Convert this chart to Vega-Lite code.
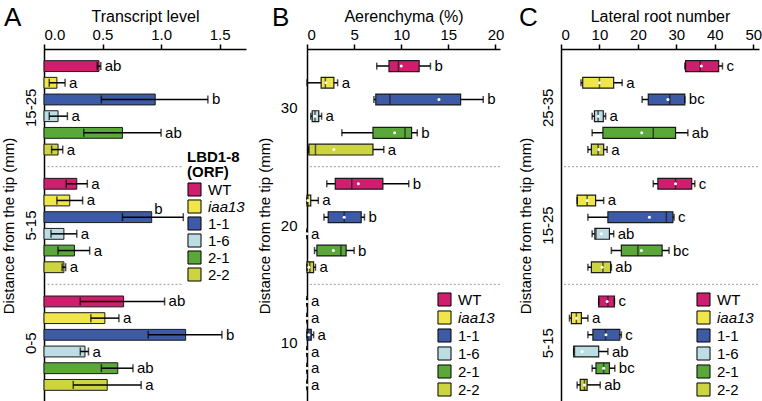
{
  "$schema": "https://vega.github.io/schema/vega-lite/v6.json",
  "autosize": {"type": "pad"},
  "padding": {"left": 0, "top": 5, "right": 0, "bottom": 0},
  "bounds": "flush",
  "spacing": 61,
  "datasets": {
    "A": [
      {"zone": "15-25", "geno": "WT", "mean": 0.47, "lo": 0.455, "hi": 0.485, "sig": "ab"},
      {"zone": "15-25", "geno": "iaa13", "mean": 0.11, "lo": 0.045, "hi": 0.18, "sig": "a"},
      {"zone": "15-25", "geno": "1-1", "mean": 0.95, "lo": 0.49, "hi": 1.40, "sig": "b"},
      {"zone": "15-25", "geno": "1-6", "mean": 0.12, "lo": 0.045, "hi": 0.20, "sig": "a"},
      {"zone": "15-25", "geno": "2-1", "mean": 0.67, "lo": 0.34, "hi": 1.0, "sig": "ab"},
      {"zone": "15-25", "geno": "2-2", "mean": 0.12, "lo": 0.065, "hi": 0.16, "sig": "a"},
      {"zone": "5-15", "geno": "WT", "mean": 0.28, "lo": 0.19, "hi": 0.37, "sig": "a"},
      {"zone": "5-15", "geno": "iaa13", "mean": 0.22, "lo": 0.11, "hi": 0.33, "sig": "a"},
      {"zone": "5-15", "geno": "1-1", "mean": 0.92, "lo": 0.67, "hi": 1.19, "sig": "b"},
      {"zone": "5-15", "geno": "1-6", "mean": 0.17, "lo": 0.06, "hi": 0.28, "sig": "a"},
      {"zone": "5-15", "geno": "2-1", "mean": 0.26, "lo": 0.12, "hi": 0.39, "sig": "a"},
      {"zone": "5-15", "geno": "2-2", "mean": 0.17, "lo": 0.155, "hi": 0.185, "sig": "a"},
      {"zone": "0-5", "geno": "WT", "mean": 0.68, "lo": 0.31, "hi": 1.03, "sig": "ab"},
      {"zone": "0-5", "geno": "iaa13", "mean": 0.52, "lo": 0.40, "hi": 0.64, "sig": "a"},
      {"zone": "0-5", "geno": "1-1", "mean": 1.21, "lo": 0.89, "hi": 1.52, "sig": "b"},
      {"zone": "0-5", "geno": "1-6", "mean": 0.35, "lo": 0.31, "hi": 0.38, "sig": "a"},
      {"zone": "0-5", "geno": "2-1", "mean": 0.63, "lo": 0.49, "hi": 0.76, "sig": "ab"},
      {"zone": "0-5", "geno": "2-2", "mean": 0.54, "lo": 0.25, "hi": 0.83, "sig": "a"}
    ],
    "B": [
      {"zone": "30", "geno": "WT", "min": 7.4, "q1": 8.7, "med": 9.7, "q3": 11.9, "max": 13.1, "mean": 10.0, "sig": "b"},
      {"zone": "30", "geno": "iaa13", "min": 0, "q1": 1.5, "med": 1.95, "q3": 2.85, "max": 3.25, "mean": 2.0, "sig": "a"},
      {"zone": "30", "geno": "1-1", "min": 7.1, "q1": 7.3, "med": 8.8, "q3": 16.3, "max": 18.7, "mean": 14.0, "sig": "b"},
      {"zone": "30", "geno": "1-6", "min": 0.4, "q1": 0.55, "med": 0.85, "q3": 1.25, "max": 1.55, "mean": 0.85, "sig": "a"},
      {"zone": "30", "geno": "2-1", "min": 3.7, "q1": 7.0, "med": 10.4, "q3": 11.1, "max": 11.7, "mean": 9.3, "sig": "b"},
      {"zone": "30", "geno": "2-2", "min": 0.15, "q1": 0.2, "med": 0.9, "q3": 7.0, "max": 8.15, "mean": 2.85, "sig": "a"},
      {"zone": "20", "geno": "WT", "min": 2.1, "q1": 3.0, "med": 4.75, "q3": 8.05, "max": 10.8, "mean": 5.45, "sig": "b"},
      {"zone": "20", "geno": "iaa13", "min": 0, "q1": 0, "med": 0.1, "q3": 0.4, "max": 1.2, "mean": 0.1, "sig": "a"},
      {"zone": "20", "geno": "1-1", "min": 1.8, "q1": 2.25, "med": 3.95, "q3": 5.75, "max": 6.1, "mean": 3.95, "sig": "b"},
      {"zone": "20", "geno": "1-6", "min": 0, "q1": 0, "med": 0, "q3": 0, "max": 0, "mean": 0, "sig": "a"},
      {"zone": "20", "geno": "2-1", "min": 0.8, "q1": 1.05, "med": 3.6, "q3": 4.15, "max": 5.0, "mean": 2.8, "sig": "b"},
      {"zone": "20", "geno": "2-2", "min": 0, "q1": 0, "med": 0.3, "q3": 0.7, "max": 0.9, "mean": 0.2, "sig": "a"},
      {"zone": "10", "geno": "WT", "min": 0, "q1": 0, "med": 0, "q3": 0, "max": 0, "mean": 0, "sig": "a"},
      {"zone": "10", "geno": "iaa13", "min": 0, "q1": 0, "med": 0, "q3": 0, "max": 0, "mean": 0, "sig": "a"},
      {"zone": "10", "geno": "1-1", "min": 0, "q1": 0, "med": 0.1, "q3": 0.45, "max": 0.7, "mean": 0.2, "sig": "a"},
      {"zone": "10", "geno": "1-6", "min": 0, "q1": 0, "med": 0, "q3": 0, "max": 0, "mean": 0, "sig": "a"},
      {"zone": "10", "geno": "2-1", "min": 0, "q1": 0, "med": 0, "q3": 0, "max": 0, "mean": 0, "sig": "a"},
      {"zone": "10", "geno": "2-2", "min": 0, "q1": 0, "med": 0, "q3": 0, "max": 0, "mean": 0, "sig": "a"}
    ],
    "C": [
      {"zone": "25-35", "geno": "WT", "min": 32.2, "q1": 32.4, "med": 36.2, "q3": 41.0, "max": 42.0, "mean": 36.5, "sig": "c"},
      {"zone": "25-35", "geno": "iaa13", "min": 5.2, "q1": 5.65, "med": 10.0, "q3": 13.7, "max": 15.9, "mean": 10.0, "sig": "a"},
      {"zone": "25-35", "geno": "1-1", "min": 21.1, "q1": 22.7, "med": 28.3, "q3": 32.2, "max": 32.2, "mean": 27.8, "sig": "bc"},
      {"zone": "25-35", "geno": "1-6", "min": 8.1, "q1": 8.7, "med": 9.65, "q3": 11.0, "max": 11.6, "mean": 9.7, "sig": "a"},
      {"zone": "25-35", "geno": "2-1", "min": 8.1, "q1": 10.9, "med": 24.0, "q3": 29.8, "max": 33.0, "mean": 21.0, "sig": "ab"},
      {"zone": "25-35", "geno": "2-2", "min": 7.0, "q1": 7.9, "med": 9.65, "q3": 11.1, "max": 12.0, "mean": 9.8, "sig": "a"},
      {"zone": "15-25", "geno": "WT", "min": 24.0, "q1": 25.2, "med": 29.8, "q3": 34.0, "max": 34.8, "mean": 29.8, "sig": "c"},
      {"zone": "15-25", "geno": "iaa13", "min": 4.2, "q1": 4.2, "med": 6.8, "q3": 9.0, "max": 11.1, "mean": 6.8, "sig": "a"},
      {"zone": "15-25", "geno": "1-1", "min": 7.0, "q1": 12.2, "med": 27.4, "q3": 29.1, "max": 29.4, "mean": 23.0, "sig": "c"},
      {"zone": "15-25", "geno": "1-6", "min": 8.1, "q1": 8.8, "med": 9.1, "q3": 12.6, "max": 13.7, "mean": 10.5, "sig": "ab"},
      {"zone": "15-25", "geno": "2-1", "min": 13.1, "q1": 15.7, "med": 20.0, "q3": 26.3, "max": 28.1, "mean": 20.9, "sig": "bc"},
      {"zone": "15-25", "geno": "2-2", "min": 7.0, "q1": 7.9, "med": 10.9, "q3": 12.9, "max": 13.1, "mean": 10.7, "sig": "ab"},
      {"zone": "5-15", "geno": "WT", "min": 9.8, "q1": 9.8, "med": 12.2, "q3": 13.9, "max": 13.9, "mean": 12.0, "sig": "c"},
      {"zone": "5-15", "geno": "iaa13", "min": 2.2, "q1": 2.7, "med": 4.0, "q3": 5.3, "max": 7.0, "mean": 4.0, "sig": "a"},
      {"zone": "5-15", "geno": "1-1", "min": 7.0, "q1": 8.3, "med": 11.6, "q3": 15.3, "max": 15.7, "mean": 11.7, "sig": "c"},
      {"zone": "5-15", "geno": "1-6", "min": 3.3, "q1": 3.3, "med": 3.5, "q3": 9.8, "max": 12.2, "mean": 5.5, "sig": "ab"},
      {"zone": "5-15", "geno": "2-1", "min": 8.1, "q1": 9.1, "med": 11.1, "q3": 12.6, "max": 14.0, "mean": 11.1, "sig": "bc"},
      {"zone": "5-15", "geno": "2-2", "min": 4.2, "q1": 5.0, "med": 6.1, "q3": 6.8, "max": 10.2, "mean": 6.1, "sig": "ab"}
    ]
  },
  "hconcat": [
    {
      "width": 202,
      "height": 353,
      "data": {"name": "A"},
      "title": {"text": "A", "anchor": "start", "frame": "group", "dx": -40, "dy": 23, "offset": 0, "fontSize": 26, "fontWeight": "normal"},
      "layer": [
        {
          "data": {"values": [{"zone": "15-25"}, {"zone": "5-15"}]},
          "mark": {"type": "rule", "color": "#9a9a9a", "strokeDash": [2, 2], "strokeWidth": 1},
          "encoding": {
            "y": {"field": "zone", "type": "nominal", "sort": ["15-25", "5-15", "0-5"], "bandPosition": 1, "title": "Distance from the tip (mm)"},
            "x": {"datum": 0.03, "type": "quantitative", "title": "Transcript level", "axis": {"orient": "top", "values": [0, 0.5, 1, 1.5], "format": ".1f", "titleFontSize": 16}},
            "x2": {"datum": 1.19}
          }
        },
        {
          "mark": {"type": "bar", "stroke": "#1a1a1a", "strokeWidth": 1},
          "encoding": {
            "y": {"field": "zone", "type": "nominal", "sort": ["15-25", "5-15", "0-5"], "title": "Distance from the tip (mm)",
                  "scale": {"paddingInner": 0, "paddingOuter": 0},
                  "axis": {"labelAngle": -90, "ticks": false, "labelPadding": 6, "titlePadding": 7}},
            "yOffset": {"field": "geno", "type": "nominal", "sort": ["WT", "iaa13", "1-1", "1-6", "2-1", "2-2"], "scale": {"paddingInner": 0.35, "paddingOuter": 0.7}},
            "x": {"field": "mean", "type": "quantitative", "title": "Transcript level",
                  "scale": {"domain": [0, 1.7256], "nice": false},
                  "axis": {"orient": "top", "values": [0, 0.5, 1, 1.5], "format": ".1f", "titleFontSize": 16}},
            "color": {"field": "geno", "type": "nominal", "sort": ["WT", "iaa13", "1-1", "1-6", "2-1", "2-2"],
                      "scale": {"domain": ["WT", "iaa13", "1-1", "1-6", "2-1", "2-2"], "range": ["#d01e6e", "#f0e64a", "#3d5aa6", "#bcdde4", "#5ba83a", "#ccd540"]},
                      "legend": {"orient": "none", "legendX": 143, "legendY": 101, "title": ["LBD1-8", "(ORF)"], "titleFontWeight": "bold", "titleLineHeight": 15, "titlePadding": 2, "rowPadding": -2.5,
                                 "encode": {"labels": {"update": {"fontStyle": {"signal": "datum.label === 'iaa13' ? 'italic' : 'normal'"}}}}}}
          }
        },
        {
          "mark": {"type": "rule", "color": "black", "strokeWidth": 1.5},
          "encoding": {
            "y": {"field": "zone", "type": "nominal", "sort": ["15-25", "5-15", "0-5"], "title": "Distance from the tip (mm)"},
            "yOffset": {"field": "geno", "type": "nominal", "sort": ["WT", "iaa13", "1-1", "1-6", "2-1", "2-2"]},
            "x": {"field": "lo", "type": "quantitative", "title": "Transcript level", "axis": {"orient": "top", "values": [0, 0.5, 1, 1.5], "format": ".1f", "titleFontSize": 16}},
            "x2": {"field": "hi"}
          }
        },
        {
          "mark": {"type": "tick", "color": "black", "thickness": 1.5, "size": 8, "orient": "vertical"},
          "encoding": {
            "y": {"field": "zone", "type": "nominal", "sort": ["15-25", "5-15", "0-5"], "title": "Distance from the tip (mm)"},
            "yOffset": {"field": "geno", "type": "nominal", "sort": ["WT", "iaa13", "1-1", "1-6", "2-1", "2-2"]},
            "x": {"field": "lo", "type": "quantitative", "title": "Transcript level", "axis": {"orient": "top", "values": [0, 0.5, 1, 1.5], "format": ".1f", "titleFontSize": 16}}
          }
        },
        {
          "mark": {"type": "tick", "color": "black", "thickness": 1.5, "size": 8, "orient": "vertical"},
          "encoding": {
            "y": {"field": "zone", "type": "nominal", "sort": ["15-25", "5-15", "0-5"], "title": "Distance from the tip (mm)"},
            "yOffset": {"field": "geno", "type": "nominal", "sort": ["WT", "iaa13", "1-1", "1-6", "2-1", "2-2"]},
            "x": {"field": "hi", "type": "quantitative", "title": "Transcript level", "axis": {"orient": "top", "values": [0, 0.5, 1, 1.5], "format": ".1f", "titleFontSize": 16}}
          }
        },
        {
          "transform": [{"filter": "!(datum.zone === '5-15' && datum.geno === '1-1')"}],
          "mark": {"type": "text", "align": "left", "baseline": "middle", "dx": 4, "fontSize": 15},
          "encoding": {
            "y": {"field": "zone", "type": "nominal", "sort": ["15-25", "5-15", "0-5"], "title": "Distance from the tip (mm)"},
            "yOffset": {"field": "geno", "type": "nominal", "sort": ["WT", "iaa13", "1-1", "1-6", "2-1", "2-2"]},
            "x": {"field": "hi", "type": "quantitative", "title": "Transcript level", "axis": {"orient": "top", "values": [0, 0.5, 1, 1.5], "format": ".1f", "titleFontSize": 16}},
            "text": {"field": "sig"}
          }
        },
        {
          "transform": [{"filter": "datum.zone === '5-15' && datum.geno === '1-1'"}],
          "mark": {"type": "text", "align": "left", "baseline": "middle", "dx": -29, "dy": -8, "fontSize": 15},
          "encoding": {
            "y": {"field": "zone", "type": "nominal", "sort": ["15-25", "5-15", "0-5"], "title": "Distance from the tip (mm)"},
            "yOffset": {"field": "geno", "type": "nominal", "sort": ["WT", "iaa13", "1-1", "1-6", "2-1", "2-2"]},
            "x": {"field": "hi", "type": "quantitative", "title": "Transcript level", "axis": {"orient": "top", "values": [0, 0.5, 1, 1.5], "format": ".1f", "titleFontSize": 16}},
            "text": {"field": "sig"}
          }
        }
      ]
    },
    {
      "width": 193,
      "height": 353,
      "data": {"name": "B"},
      "title": {"text": "B", "anchor": "start", "frame": "group", "dx": -35, "dy": 23, "offset": 0, "fontSize": 26, "fontWeight": "normal"},
      "layer": [
        {
          "data": {"values": [{"zone": "30"}, {"zone": "20"}]},
          "mark": {"type": "rule", "color": "#9a9a9a", "strokeDash": [2, 2], "strokeWidth": 1},
          "encoding": {
            "y": {"field": "zone", "type": "nominal", "sort": ["30", "20", "10"], "bandPosition": 1, "title": "Distance from the tip (mm)"},
            "x": {"datum": 0.3, "type": "quantitative", "title": "Aerenchyma (%)", "axis": {"orient": "top", "values": [0, 5, 10, 15, 20], "titleFontSize": 16}},
            "x2": {"datum": 20.48}
          }
        },
        {
          "mark": {"type": "rule", "color": "black", "strokeWidth": 1.5},
          "encoding": {
            "y": {"field": "zone", "type": "nominal", "sort": ["30", "20", "10"], "title": "Distance from the tip (mm)",
                  "scale": {"paddingInner": 0, "paddingOuter": 0},
                  "axis": {"labelAngle": 0, "ticks": false, "labelPadding": 10, "titlePadding": 8}},
            "yOffset": {"field": "geno", "type": "nominal", "sort": ["WT", "iaa13", "1-1", "1-6", "2-1", "2-2"], "scale": {"paddingInner": 0.35, "paddingOuter": 0.7}},
            "x": {"field": "min", "type": "quantitative", "title": "Aerenchyma (%)",
                  "scale": {"domain": [0, 20.48], "nice": false},
                  "axis": {"orient": "top", "values": [0, 5, 10, 15, 20], "titleFontSize": 16}},
            "x2": {"field": "max"}
          }
        },
        {
          "mark": {"type": "bar", "stroke": "#1a1a1a", "strokeWidth": 1.2},
          "encoding": {
            "y": {"field": "zone", "type": "nominal", "sort": ["30", "20", "10"], "title": "Distance from the tip (mm)"},
            "yOffset": {"field": "geno", "type": "nominal", "sort": ["WT", "iaa13", "1-1", "1-6", "2-1", "2-2"]},
            "x": {"field": "q1", "type": "quantitative", "title": "Aerenchyma (%)", "axis": {"orient": "top", "values": [0, 5, 10, 15, 20], "titleFontSize": 16}},
            "x2": {"field": "q3"},
            "color": {"field": "geno", "type": "nominal", "sort": ["WT", "iaa13", "1-1", "1-6", "2-1", "2-2"],
                      "scale": {"domain": ["WT", "iaa13", "1-1", "1-6", "2-1", "2-2"], "range": ["#d01e6e", "#f0e64a", "#3d5aa6", "#bcdde4", "#5ba83a", "#ccd540"]},
                      "legend": {"orient": "none", "legendX": 130, "legendY": 243, "title": null, "rowPadding": -1,
                                 "encode": {"labels": {"update": {"fontStyle": {"signal": "datum.label === 'iaa13' ? 'italic' : 'normal'"}}}}}}
          }
        },
        {
          "mark": {"type": "tick", "color": "#1a1a1a", "thickness": 1.5, "size": 11, "orient": "vertical"},
          "encoding": {
            "y": {"field": "zone", "type": "nominal", "sort": ["30", "20", "10"], "title": "Distance from the tip (mm)"},
            "yOffset": {"field": "geno", "type": "nominal", "sort": ["WT", "iaa13", "1-1", "1-6", "2-1", "2-2"]},
            "x": {"field": "med", "type": "quantitative", "title": "Aerenchyma (%)", "axis": {"orient": "top", "values": [0, 5, 10, 15, 20], "titleFontSize": 16}}
          }
        },
        {
          "mark": {"type": "tick", "color": "black", "thickness": 1.5, "size": 7, "orient": "vertical"},
          "encoding": {
            "y": {"field": "zone", "type": "nominal", "sort": ["30", "20", "10"], "title": "Distance from the tip (mm)"},
            "yOffset": {"field": "geno", "type": "nominal", "sort": ["WT", "iaa13", "1-1", "1-6", "2-1", "2-2"]},
            "x": {"field": "min", "type": "quantitative", "title": "Aerenchyma (%)", "axis": {"orient": "top", "values": [0, 5, 10, 15, 20], "titleFontSize": 16}}
          }
        },
        {
          "mark": {"type": "tick", "color": "black", "thickness": 1.5, "size": 7, "orient": "vertical"},
          "encoding": {
            "y": {"field": "zone", "type": "nominal", "sort": ["30", "20", "10"], "title": "Distance from the tip (mm)"},
            "yOffset": {"field": "geno", "type": "nominal", "sort": ["WT", "iaa13", "1-1", "1-6", "2-1", "2-2"]},
            "x": {"field": "max", "type": "quantitative", "title": "Aerenchyma (%)", "axis": {"orient": "top", "values": [0, 5, 10, 15, 20], "titleFontSize": 16}}
          }
        },
        {
          "mark": {"type": "point", "filled": true, "color": "white", "size": 9, "opacity": 1},
          "encoding": {
            "y": {"field": "zone", "type": "nominal", "sort": ["30", "20", "10"], "title": "Distance from the tip (mm)"},
            "yOffset": {"field": "geno", "type": "nominal", "sort": ["WT", "iaa13", "1-1", "1-6", "2-1", "2-2"]},
            "x": {"field": "mean", "type": "quantitative", "title": "Aerenchyma (%)", "axis": {"orient": "top", "values": [0, 5, 10, 15, 20], "titleFontSize": 16}}
          }
        },
        {
          "mark": {"type": "text", "align": "left", "baseline": "middle", "dx": 4, "fontSize": 15},
          "encoding": {
            "y": {"field": "zone", "type": "nominal", "sort": ["30", "20", "10"], "title": "Distance from the tip (mm)"},
            "yOffset": {"field": "geno", "type": "nominal", "sort": ["WT", "iaa13", "1-1", "1-6", "2-1", "2-2"]},
            "x": {"field": "max", "type": "quantitative", "title": "Aerenchyma (%)", "axis": {"orient": "top", "values": [0, 5, 10, 15, 20], "titleFontSize": 16}},
            "text": {"field": "sig"}
          }
        }
      ]
    },
    {
      "width": 198,
      "height": 353,
      "data": {"name": "C"},
      "title": {"text": "C", "anchor": "start", "frame": "group", "dx": -42, "dy": 23, "offset": 0, "fontSize": 26, "fontWeight": "normal"},
      "layer": [
        {
          "data": {"values": [{"zone": "25-35"}, {"zone": "15-25"}]},
          "mark": {"type": "rule", "color": "#9a9a9a", "strokeDash": [2, 2], "strokeWidth": 1},
          "encoding": {
            "y": {"field": "zone", "type": "nominal", "sort": ["25-35", "15-25", "5-15"], "bandPosition": 1, "title": "Distance from the tip (mm)"},
            "x": {"datum": 0.8, "type": "quantitative", "title": "Lateral root number", "axis": {"orient": "top", "values": [0, 10, 20, 30, 40, 50], "titleFontSize": 16}},
            "x2": {"datum": 51.5}
          }
        },
        {
          "mark": {"type": "rule", "color": "black", "strokeWidth": 1.5},
          "encoding": {
            "y": {"field": "zone", "type": "nominal", "sort": ["25-35", "15-25", "5-15"], "title": "Distance from the tip (mm)",
                  "scale": {"paddingInner": 0, "paddingOuter": 0},
                  "axis": {"labelAngle": -90, "ticks": false, "labelPadding": 6, "titlePadding": 7}},
            "yOffset": {"field": "geno", "type": "nominal", "sort": ["WT", "iaa13", "1-1", "1-6", "2-1", "2-2"], "scale": {"paddingInner": 0.35, "paddingOuter": 0.7}},
            "x": {"field": "min", "type": "quantitative", "title": "Lateral root number",
                  "scale": {"domain": [0, 51.5], "nice": false},
                  "axis": {"orient": "top", "values": [0, 10, 20, 30, 40, 50], "titleFontSize": 16}},
            "x2": {"field": "max"}
          }
        },
        {
          "mark": {"type": "bar", "stroke": "#1a1a1a", "strokeWidth": 1.2},
          "encoding": {
            "y": {"field": "zone", "type": "nominal", "sort": ["25-35", "15-25", "5-15"], "title": "Distance from the tip (mm)"},
            "yOffset": {"field": "geno", "type": "nominal", "sort": ["WT", "iaa13", "1-1", "1-6", "2-1", "2-2"]},
            "x": {"field": "q1", "type": "quantitative", "title": "Lateral root number", "axis": {"orient": "top", "values": [0, 10, 20, 30, 40, 50], "titleFontSize": 16}},
            "x2": {"field": "q3"},
            "color": {"field": "geno", "type": "nominal", "sort": ["WT", "iaa13", "1-1", "1-6", "2-1", "2-2"],
                      "scale": {"domain": ["WT", "iaa13", "1-1", "1-6", "2-1", "2-2"], "range": ["#d01e6e", "#f0e64a", "#3d5aa6", "#bcdde4", "#5ba83a", "#ccd540"]},
                      "legend": {"orient": "none", "legendX": 135, "legendY": 243, "title": null, "rowPadding": -1,
                                 "encode": {"labels": {"update": {"fontStyle": {"signal": "datum.label === 'iaa13' ? 'italic' : 'normal'"}}}}}}
          }
        },
        {
          "mark": {"type": "tick", "color": "#1a1a1a", "thickness": 1.5, "size": 11, "orient": "vertical"},
          "encoding": {
            "y": {"field": "zone", "type": "nominal", "sort": ["25-35", "15-25", "5-15"], "title": "Distance from the tip (mm)"},
            "yOffset": {"field": "geno", "type": "nominal", "sort": ["WT", "iaa13", "1-1", "1-6", "2-1", "2-2"]},
            "x": {"field": "med", "type": "quantitative", "title": "Lateral root number", "axis": {"orient": "top", "values": [0, 10, 20, 30, 40, 50], "titleFontSize": 16}}
          }
        },
        {
          "mark": {"type": "tick", "color": "black", "thickness": 1.5, "size": 7, "orient": "vertical"},
          "encoding": {
            "y": {"field": "zone", "type": "nominal", "sort": ["25-35", "15-25", "5-15"], "title": "Distance from the tip (mm)"},
            "yOffset": {"field": "geno", "type": "nominal", "sort": ["WT", "iaa13", "1-1", "1-6", "2-1", "2-2"]},
            "x": {"field": "min", "type": "quantitative", "title": "Lateral root number", "axis": {"orient": "top", "values": [0, 10, 20, 30, 40, 50], "titleFontSize": 16}}
          }
        },
        {
          "mark": {"type": "tick", "color": "black", "thickness": 1.5, "size": 7, "orient": "vertical"},
          "encoding": {
            "y": {"field": "zone", "type": "nominal", "sort": ["25-35", "15-25", "5-15"], "title": "Distance from the tip (mm)"},
            "yOffset": {"field": "geno", "type": "nominal", "sort": ["WT", "iaa13", "1-1", "1-6", "2-1", "2-2"]},
            "x": {"field": "max", "type": "quantitative", "title": "Lateral root number", "axis": {"orient": "top", "values": [0, 10, 20, 30, 40, 50], "titleFontSize": 16}}
          }
        },
        {
          "mark": {"type": "point", "filled": true, "color": "white", "size": 9, "opacity": 1},
          "encoding": {
            "y": {"field": "zone", "type": "nominal", "sort": ["25-35", "15-25", "5-15"], "title": "Distance from the tip (mm)"},
            "yOffset": {"field": "geno", "type": "nominal", "sort": ["WT", "iaa13", "1-1", "1-6", "2-1", "2-2"]},
            "x": {"field": "mean", "type": "quantitative", "title": "Lateral root number", "axis": {"orient": "top", "values": [0, 10, 20, 30, 40, 50], "titleFontSize": 16}}
          }
        },
        {
          "mark": {"type": "text", "align": "left", "baseline": "middle", "dx": 4, "fontSize": 15},
          "encoding": {
            "y": {"field": "zone", "type": "nominal", "sort": ["25-35", "15-25", "5-15"], "title": "Distance from the tip (mm)"},
            "yOffset": {"field": "geno", "type": "nominal", "sort": ["WT", "iaa13", "1-1", "1-6", "2-1", "2-2"]},
            "x": {"field": "max", "type": "quantitative", "title": "Lateral root number", "axis": {"orient": "top", "values": [0, 10, 20, 30, 40, 50], "titleFontSize": 16}},
            "text": {"field": "sig"}
          }
        }
      ]
    }
  ],
  "resolve": {"scale": {"color": "independent", "x": "independent", "y": "independent"}, "legend": {"color": "independent"}},
  "config": {
    "font": "Liberation Sans",
    "view": {"stroke": null},
    "axis": {"domainColor": "black", "domainWidth": 1.5, "tickColor": "black", "tickWidth": 1.5, "tickSize": 5,
             "labelColor": "black", "titleColor": "black", "labelFontSize": 15, "titleFontSize": 15,
             "titleFontWeight": "normal", "grid": false, "labelPadding": 2, "titlePadding": 3, "labelOverlap": false},
    "legend": {"symbolType": "square", "symbolSize": 170, "symbolStrokeColor": "black", "symbolStrokeWidth": 1,
               "labelFontSize": 15, "labelColor": "black", "titleFontSize": 15, "titleColor": "black", "labelOffset": 6, "symbolOpacity": 1},
    "title": {"color": "black"}
  }
}
